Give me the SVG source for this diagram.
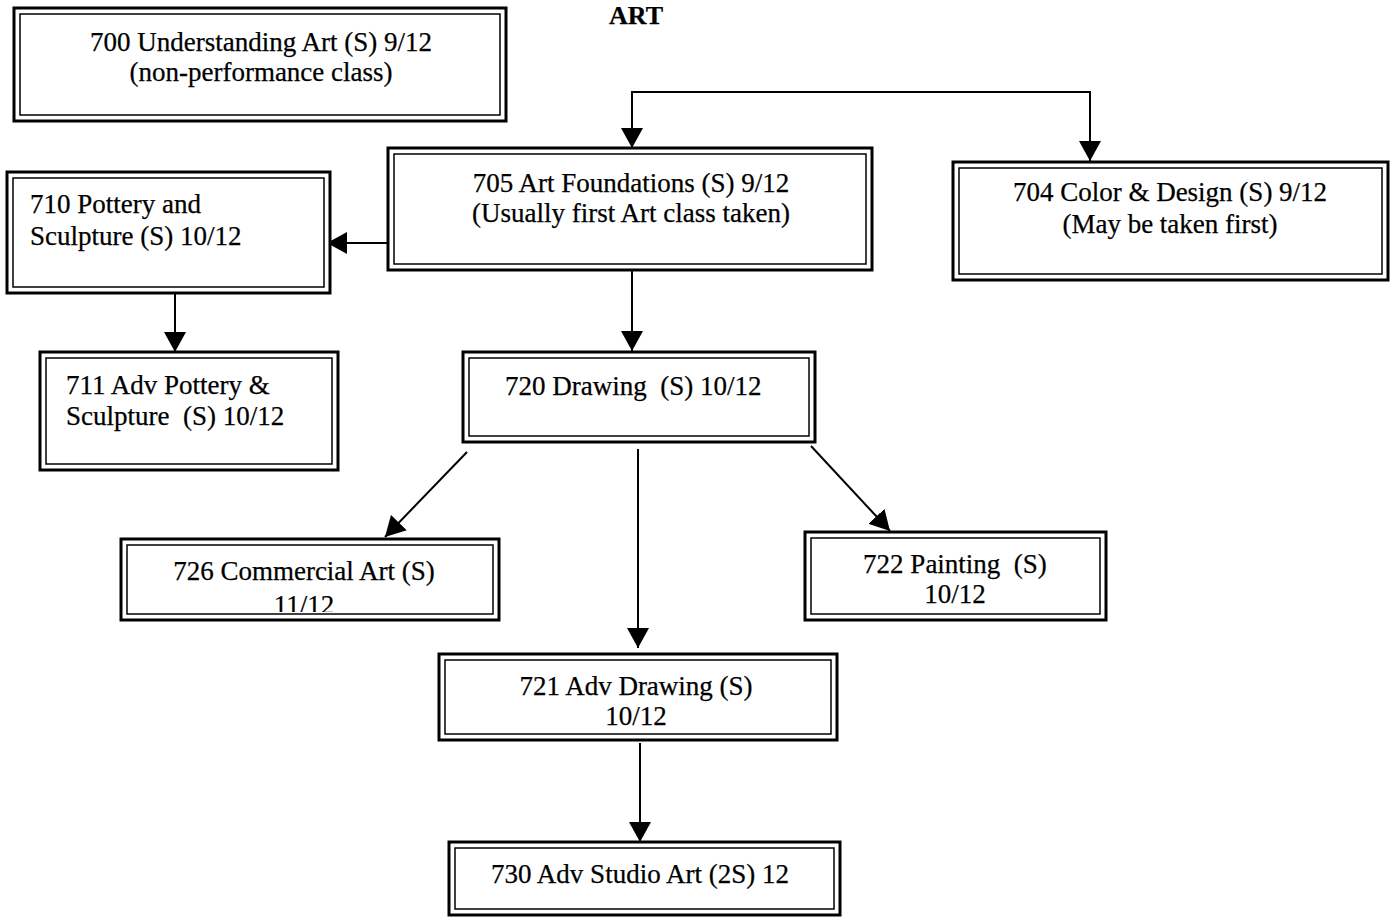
<svg xmlns="http://www.w3.org/2000/svg" width="1394" height="917" viewBox="0 0 1394 917">
<defs>
<style>
.o{fill:#fff;stroke:#000;stroke-width:3}
.i{fill:none;stroke:#000;stroke-width:1.5}
.t{font-family:"Liberation Serif","Times New Roman",serif;font-size:27px;fill:#000;stroke:#000;stroke-width:0.25}
.c{text-anchor:middle}
.e{fill:none;stroke:#000;stroke-width:2}
</style>
<marker id="a" viewBox="0 0 20 22" refX="20" refY="11" markerWidth="20" markerHeight="22" markerUnits="userSpaceOnUse" orient="auto-start-reverse">
<path d="M0,0 L20,11 L0,22 z" fill="#000"/>
</marker>
<clipPath id="k726"><rect x="127" y="545" width="366" height="67"/></clipPath>
</defs>
<rect width="1394" height="917" fill="#fff"/>
<text x="636" y="24" class="t c" style="font-weight:bold;font-size:26px">ART</text>

<g id="connectors">
<path class="e" d="M632,148 V92 H1090 V161" marker-start="url(#a)" marker-end="url(#a)"/>
<path class="e" d="M388,243 H327" marker-end="url(#a)"/>
<path class="e" d="M175,293 V352" marker-end="url(#a)"/>
<path class="e" d="M632,271 V351" marker-end="url(#a)"/>
<path class="e" d="M467,452 L385,537" marker-end="url(#a)"/>
<path class="e" d="M638,449 V648" marker-end="url(#a)"/>
<path class="e" d="M811,446 L890,531" marker-end="url(#a)"/>
<path class="e" d="M640,743 V842" marker-end="url(#a)"/>
</g>

<g id="n700">
<rect class="o" x="14" y="8" width="492" height="113"/>
<rect class="i" x="20" y="14" width="480" height="101"/>
<text class="t c" x="261" y="51">700 Understanding Art (S) 9/12</text>
<text class="t c" x="261" y="81">(non-performance class)</text>
</g>

<g id="n705">
<rect class="o" x="388" y="148" width="484" height="122"/>
<rect class="i" x="394" y="154" width="472" height="110"/>
<text class="t c" x="631" y="192">705 Art Foundations (S) 9/12</text>
<text class="t c" x="631" y="222">(Usually first Art class taken)</text>
</g>

<g id="n704">
<rect class="o" x="953" y="162" width="435" height="118"/>
<rect class="i" x="959" y="168" width="423" height="106"/>
<text class="t c" x="1170" y="201">704 Color &amp; Design (S) 9/12</text>
<text class="t c" x="1170" y="233">(May be taken first)</text>
</g>

<g id="n710">
<rect class="o" x="7" y="172" width="323" height="121"/>
<rect class="i" x="13" y="178" width="311" height="109"/>
<text class="t" x="30" y="213">710 Pottery and</text>
<text class="t" x="30" y="245">Sculpture (S) 10/12</text>
</g>

<g id="n711">
<rect class="o" x="40" y="352" width="298" height="118"/>
<rect class="i" x="46" y="358" width="286" height="106"/>
<text class="t" x="66" y="394">711 Adv Pottery &amp;</text>
<text class="t" x="66" y="425" xml:space="preserve">Sculpture  (S) 10/12</text>
</g>

<g id="n720">
<rect class="o" x="463" y="352" width="352" height="90"/>
<rect class="i" x="469" y="358" width="340" height="78"/>
<text class="t" x="505" y="395" xml:space="preserve">720 Drawing  (S) 10/12</text>
</g>

<g id="n726">
<rect class="o" x="121" y="539" width="378" height="81"/>
<rect class="i" x="127" y="545" width="366" height="69"/>
<g clip-path="url(#k726)">
<text class="t c" x="304" y="580">726 Commercial Art (S)</text>
<text class="t c" x="304" y="614">11/12</text>
</g>
</g>

<g id="n722">
<rect class="o" x="805" y="532" width="301" height="88"/>
<rect class="i" x="811" y="538" width="289" height="76"/>
<text class="t c" x="955" y="573" xml:space="preserve">722 Painting  (S)</text>
<text class="t c" x="955" y="603">10/12</text>
</g>

<g id="n721">
<rect class="o" x="439" y="654" width="398" height="86"/>
<rect class="i" x="445" y="660" width="386" height="74"/>
<text class="t c" x="636" y="695">721 Adv Drawing (S)</text>
<text class="t c" x="636" y="725">10/12</text>
</g>

<g id="n730">
<rect class="o" x="449" y="842" width="391" height="73"/>
<rect class="i" x="455" y="848" width="379" height="61"/>
<text class="t c" x="640" y="883">730 Adv Studio Art (2S) 12</text>
</g>
</svg>
